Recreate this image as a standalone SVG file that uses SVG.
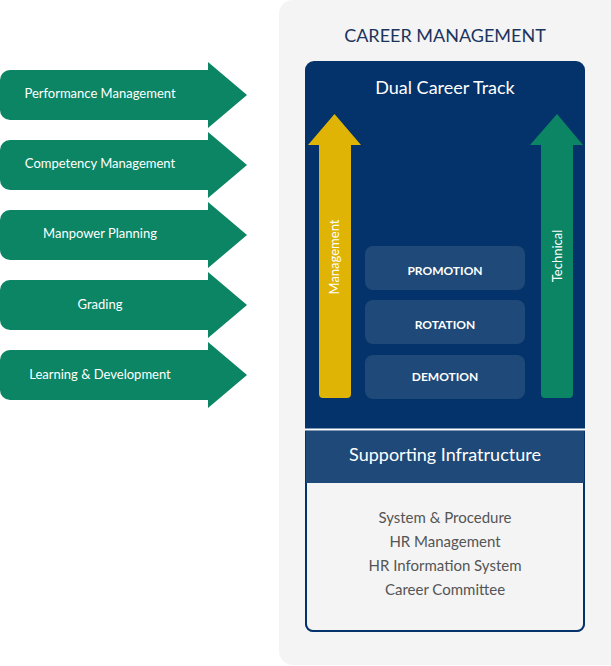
<svg xmlns="http://www.w3.org/2000/svg" width="611" height="666" viewBox="0 0 611 666">
<style>
text{font-family:Lato,"Liberation Sans",sans-serif}
.arr{fill:#0b8564}
.lbl{fill:#fff;font-size:13px;text-anchor:middle}
.box{fill:#1e4978}
.bt{fill:#fff;font-size:12px;font-weight:bold;text-anchor:middle}
.li{fill:#555;font-size:15px;text-anchor:middle}
</style>
<rect width="611" height="666" fill="#fff"/>
<g id="panel">
<rect x="279" y="0" width="346" height="665" rx="14" fill="#f4f4f4"/>
<text x="445" y="42" font-size="18" fill="#1b355e" text-anchor="middle">CAREER MANAGEMENT</text>
</g>
<g id="inputs">
<g id="perf"><path class="arr" d="M10 70H208V62L247 95L208 128V120H10A10 10 0 0 1 0 110V80A10 10 0 0 1 10 70Z"/><text class="lbl" x="100" y="98">Performance Management</text></g>
<g id="comp"><path class="arr" d="M10 140H208V132L247 165L208 198V190H10A10 10 0 0 1 0 180V150A10 10 0 0 1 10 140Z"/><text class="lbl" x="100" y="168">Competency Management</text></g>
<g id="manp"><path class="arr" d="M10 210H208V202L247 235L208 268V260H10A10 10 0 0 1 0 250V220A10 10 0 0 1 10 210Z"/><text class="lbl" x="100" y="238">Manpower Planning</text></g>
<g id="grad"><path class="arr" d="M10 280H208V272L247 305L208 338V330H10A10 10 0 0 1 0 320V290A10 10 0 0 1 10 280Z"/><text class="lbl" x="100" y="309">Grading</text></g>
<g id="learn"><path class="arr" d="M10 350H208V342L247 375L208 408V400H10A10 10 0 0 1 0 390V360A10 10 0 0 1 10 350Z"/><text class="lbl" x="100" y="379">Learning &amp; Development</text></g>
</g>
<g id="dual">
<rect x="305" y="61" width="280" height="571" rx="9" fill="#04326a"/>
<text x="445" y="94" font-size="18" fill="#fff" text-anchor="middle">Dual Career Track</text>
</g>
<g id="management">
<path d="M334.5 114L361 145H351V394A4 4 0 0 1 347 398H323A4 4 0 0 1 319 394V145H308Z" fill="#e0b404"/>
<text transform="translate(339 257) rotate(-90)" font-size="13" fill="#fff" text-anchor="middle">Management</text>
</g>
<g id="technical">
<path d="M557 114L583 145H573V394A4 4 0 0 1 569 398H545A4 4 0 0 1 541 394V145H530Z" fill="#0b8564"/>
<text transform="translate(561.5 256) rotate(-90)" font-size="13" fill="#fff" text-anchor="middle">Technical</text>
</g>
<g id="promotion"><rect class="box" x="365" y="246" width="160" height="44" rx="8"/><text class="bt" x="445" y="275">PROMOTION</text></g>
<g id="rotation"><rect class="box" x="365" y="300" width="160" height="44" rx="8"/><text class="bt" x="445" y="329">ROTATION</text></g>
<g id="demotion"><rect class="box" x="365" y="355" width="160" height="44" rx="8"/><text class="bt" x="445" y="381">DEMOTION</text></g>
<g id="support">
<path d="M306 431H584V624A7 7 0 0 1 577 631H313A7 7 0 0 1 306 624Z" fill="#f4f4f4" stroke="#04326a" stroke-width="2"/>
<rect x="305" y="428.5" width="280" height="2" fill="#fff"/>
<rect x="306" y="431" width="278" height="52" fill="#1e4978"/>
<text x="445" y="461" font-size="18" fill="#fff" text-anchor="middle">Supporting Infratructure</text>
<text class="li" x="445" y="523">System &amp; Procedure</text>
<text class="li" x="445" y="547">HR Management</text>
<text class="li" x="445" y="571">HR Information System</text>
<text class="li" x="445" y="595">Career Committee</text>
</g>
</svg>
